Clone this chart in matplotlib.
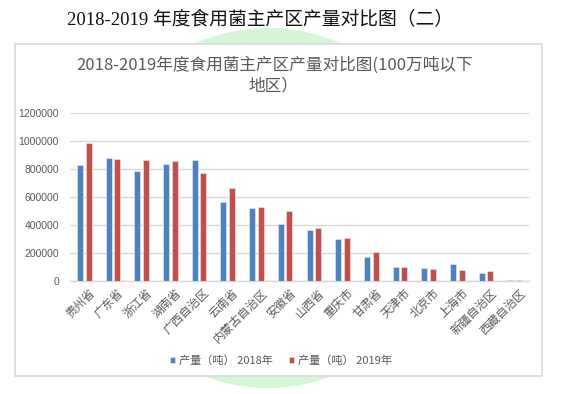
import matplotlib
matplotlib.use("Agg")
import matplotlib.pyplot as plt
from matplotlib.patches import Ellipse, Rectangle
import numpy as np

plt.rcParams['font.family'] = ['Noto Sans CJK SC', 'DejaVu Sans']

categories = ["贵州省", "广东省", "浙江省", "湖南省", "广西自治区", "云南省", "内蒙古自治区",
              "安徽省", "山西省", "重庆市", "甘肃省", "天津市", "北京市", "上海市",
              "新疆自治区", "西藏自治区"]
prod_2018 = [826000, 876000, 781000, 836000, 864000, 560000, 524000, 407000,
             364000, 300000, 174000, 102000, 93000, 119000, 60000, 5000]
prod_2019 = [981000, 869000, 860000, 857000, 769000, 660000, 531000, 502000,
             381000, 310000, 207000, 102000, 86000, 81000, 71000, 5000]
series_names = ["产量（吨） 2018年", "产量（吨） 2019年"]
yticks = [0, 200000, 400000, 600000, 800000, 1000000, 1200000]

W, H = 576, 394
fig = plt.figure(figsize=(W / 100, H / 100), dpi=100)
fig.patch.set_facecolor('white')

# green circle background
circ = Ellipse((268 / W, 1 - 208 / H), 360 / W, 360 / H, transform=fig.transFigure,
               facecolor='#d6f7d6', edgecolor='none', zorder=-3)
fig.patches.append(circ)
# chart box
box = Rectangle((15 / W, 1 - 376 / H), 527 / W, 332 / H, transform=fig.transFigure,
                facecolor='white', edgecolor='#d9d9d9', lw=1.2, zorder=-2)
fig.patches.append(box)

ax = fig.add_axes([70 / W, 1 - 281 / H, (529 - 70) / W, (281 - 112.7) / H])
ax.set_zorder(1)
ax.patch.set_alpha(0)

x = np.arange(len(categories))
w = 0.21
off = 0.15
b1 = ax.bar(x - off, prod_2018, width=w, color='#4f81bd', edgecolor='#dce6f2', lw=0.5,
            label=series_names[0], zorder=3)
b2 = ax.bar(x + off, prod_2019, width=w, color='#c0504d', edgecolor='#f2dcdb', lw=0.5,
            label=series_names[1], zorder=3)

ax.set_xlim(-0.5, len(categories) - 0.5)
ax.set_ylim(0, 1200000)
ax.set_yticks(yticks)
ax.set_yticklabels([str(v) for v in yticks], fontsize=7.5, color='#595959',
                   family=['Liberation Sans', 'DejaVu Sans'])
ax.yaxis.grid(True, color='#d9d9d9', lw=1, zorder=0)
ax.set_axisbelow(True)
ax.tick_params(axis='both', length=0)
ax.tick_params(axis='y', pad=8)
ax.tick_params(axis='x', pad=4)
for s in ['left', 'right', 'top']:
    ax.spines[s].set_visible(False)
ax.spines['bottom'].set_color('#d9d9d9')
ax.spines['bottom'].set_linewidth(1)
ax.set_xticks(x)
ax.set_xticklabels(categories, rotation=45, ha='right', rotation_mode='anchor',
                   fontsize=8.5, color='#595959')
for lbl in ax.get_xticklabels():
    lbl.set_transform(lbl.get_transform() + matplotlib.transforms.ScaledTranslation(4 / 100, 0, fig.dpi_scale_trans))

# titles
fig.text(67 / W, 1 - 20 / H, "2018-2019 年度食用菌主产区产量对比图（二）", ha='left', va='center',
         fontsize=13.5, color='#111111', family=['Liberation Serif', 'Noto Sans CJK SC'])
fig.text(275 / W, 1 - 65 / H, "2018-2019年度食用菌主产区产量对比图(100万吨以下", ha='center',
         va='center', fontsize=12, color='#595959')
fig.text(273 / W, 1 - 86 / H, "地区）", ha='center', va='center', fontsize=12, color='#595959')

leg = fig.legend(handles=[b1, b2], labels=series_names, loc='center',
                 bbox_to_anchor=(281 / W, 1 - 361 / H), ncol=2, frameon=False,
                 fontsize=8, handlelength=0.45, handleheight=0.45, handletextpad=0.3,
                 columnspacing=1.5)
for t in leg.get_texts():
    t.set_color('#595959')

fig.savefig("out.png", dpi=100)
